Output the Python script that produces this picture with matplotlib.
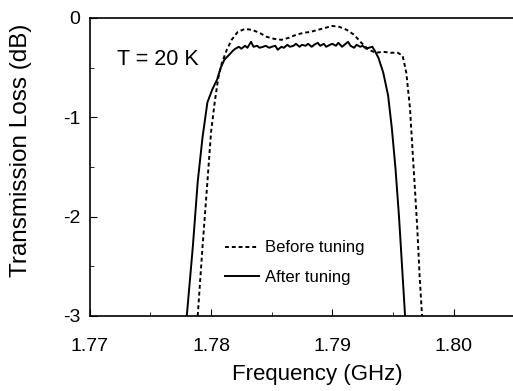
import matplotlib
matplotlib.use("Agg")
from matplotlib import pyplot as plt
from matplotlib.ticker import MultipleLocator

plt.rcParams['font.family'] = ['Liberation Sans', 'DejaVu Sans']

# After tuning (solid)
freq_after = [1.7780, 1.7785, 1.7789, 1.7793, 1.7797, 1.7801, 1.7805, 1.7808, 1.7811,
              1.7815, 1.7818, 1.7820, 1.7823, 1.7825, 1.7828, 1.7830, 1.7833, 1.7835,
              1.7838, 1.7840, 1.7843, 1.7845, 1.7848, 1.7850, 1.7853, 1.7855, 1.7858,
              1.7860, 1.7863, 1.7865, 1.7868, 1.7870, 1.7873, 1.7875, 1.7878, 1.7880,
              1.7883, 1.7885, 1.7888, 1.7890, 1.7893, 1.7895, 1.7898, 1.7900, 1.7903,
              1.7905, 1.7908, 1.7910, 1.7913, 1.7915, 1.7918, 1.7920, 1.7923, 1.7925,
              1.7928, 1.7930, 1.7933, 1.7935, 1.7938, 1.7942, 1.7946, 1.7949, 1.7952,
              1.7955, 1.7958, 1.7960]
loss_after = [-3.0, -2.3, -1.65, -1.2, -0.85, -0.72, -0.62, -0.50, -0.42,
              -0.37, -0.33, -0.31, -0.29, -0.31, -0.28, -0.30, -0.24, -0.29,
              -0.28, -0.30, -0.29, -0.28, -0.30, -0.29, -0.28, -0.32, -0.29,
              -0.30, -0.27, -0.29, -0.28, -0.26, -0.29, -0.27, -0.28, -0.26,
              -0.29, -0.27, -0.25, -0.28, -0.26, -0.29, -0.27, -0.26, -0.28,
              -0.25, -0.29, -0.27, -0.24, -0.28, -0.30, -0.27, -0.29, -0.28,
              -0.31, -0.30, -0.29, -0.33, -0.40, -0.55, -0.78, -1.1, -1.5,
              -2.0, -2.6, -3.0]

# Before tuning (dashed)
freq_before = [1.7789, 1.7793, 1.7797, 1.7800, 1.7803, 1.7806, 1.7809, 1.7813, 1.7817,
               1.7822, 1.7828, 1.7834, 1.7840, 1.7846, 1.7852, 1.7858, 1.7864, 1.7870,
               1.7876, 1.7882, 1.7888, 1.7894, 1.7900, 1.7906, 1.7912, 1.7918, 1.7924,
               1.7930, 1.7936, 1.7942, 1.7948, 1.7954, 1.7958, 1.7961, 1.7964, 1.7967,
               1.7970, 1.7972, 1.7974]
loss_before = [-3.0, -2.3, -1.65, -1.15, -0.85, -0.6, -0.45, -0.32, -0.22,
               -0.14, -0.11, -0.12, -0.15, -0.19, -0.21, -0.22, -0.20, -0.17,
               -0.15, -0.14, -0.12, -0.10, -0.08, -0.09, -0.12, -0.17, -0.25,
               -0.32, -0.35, -0.34, -0.35, -0.35, -0.38, -0.55, -0.9, -1.5,
               -2.1, -2.6, -3.0]

fig = plt.figure(figsize=(5.13, 3.91), dpi=100)
ax = fig.add_axes([0.175, 0.192, 0.825, 0.762])

ax.plot(freq_before, loss_before, c='black', lw=1.4, ls=(0, (2, 1.5)), label='Before tuning')
ax.plot(freq_after, loss_after, c='black', lw=1.4, label='After tuning')

ax.set_xlim(1.77, 1.8049)
ax.set_ylim(-3, 0)
ax.xaxis.set_major_locator(MultipleLocator(0.01))
ax.xaxis.set_minor_locator(MultipleLocator(0.005))
ax.yaxis.set_major_locator(MultipleLocator(1))
ax.yaxis.set_minor_locator(MultipleLocator(0.5))
ax.xaxis.set_major_formatter(plt.FuncFormatter(lambda v, p: "%.2f" % v))
ax.yaxis.set_major_formatter(plt.FuncFormatter(lambda v, p: "%d" % round(v)))
ax.tick_params(axis='both', which='major', direction='in', length=5, labelsize=14)
ax.tick_params(axis='x', which='major', pad=16)
ax.tick_params(axis='y', which='major', pad=7)
ax.tick_params(axis='both', which='minor', direction='in', length=3)
ax.spines['right'].set_visible(False)
for s in ax.spines.values():
    s.set_linewidth(1.2)

ax.set_xlabel("Frequency (GHz)", fontsize=16)
ax.set_ylabel("Transmission Loss (dB)", fontsize=17.5)
ax.xaxis.set_label_coords(0.537, -0.16)
ax.yaxis.set_label_coords(-0.137, 0.557)
ax.text(0.064, 0.842, "T = 20 K", transform=ax.transAxes, fontsize=15.5)

leg = ax.legend(loc='lower left', bbox_to_anchor=(0.32, 0.105), frameon=False,
                borderpad=0, borderaxespad=0, fontsize=12, handlelength=2.0,
                handletextpad=0.4, labelspacing=0.85)

fig.savefig("out.png", dpi=100)
